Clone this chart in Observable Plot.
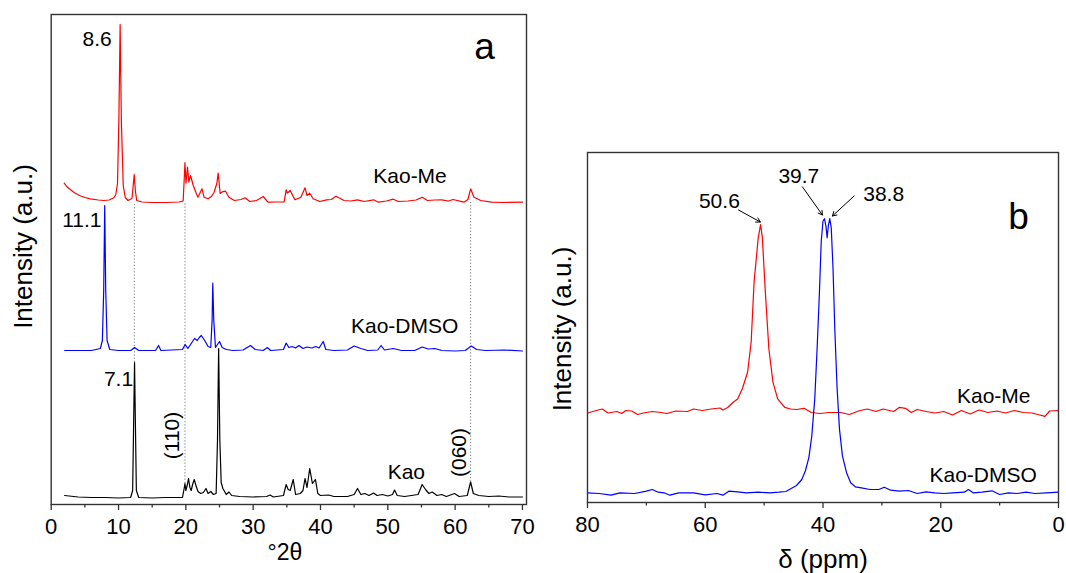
<!DOCTYPE html>
<html><head><meta charset="utf-8">
<script src="https://cdn.jsdelivr.net/npm/d3@7"></script>
<script src="https://cdn.jsdelivr.net/npm/@observablehq/plot@0.6"></script>
<style>
body{margin:0;background:#fff;}
#wrap{position:relative;width:1066px;height:573px;overflow:hidden;background:#fff;}
#wrap > svg{position:absolute;top:0;}
</style></head><body><div id="wrap"></div>
<script>
// ---------- Panel a: XRD (2θ, intensity a.u.) ----------
const kaoTheta = [2.0,4,6,8,10,11.8,12.1,12.25,12.38,12.5,12.65,13,15,17,19.5,19.75,19.87,20.0,20.2,20.4,20.6,20.8,21.0,21.25,21.5,21.8,22.2,22.6,23.0,23.3,23.7,24.1,24.5,24.7,24.87,25.05,25.25,25.5,26.0,26.4,26.8,28,30,32,32.5,33,34.5,34.9,35.2,35.5,35.95,36.3,37.0,37.4,37.7,38.0,38.4,38.8,39.25,39.6,40,41.2,42,44,45.0,45.5,46.0,46.6,47.2,47.9,48.4,49.2,50,50.7,51.0,51.4,52.5,54.5,55.1,55.6,56.1,56.6,57.3,58.0,58.7,59.9,60.6,61.8,62.3,62.7,63.5,65,66.5,68,70];
const kaoInt = [9,7.5,7,7,6.5,7,14,84,142,84,14,7,6.5,7,7,16,21,14,19,26,17,14,20,25,19,13,11,12,16,11,13,10,11,64,156,64,22,16,10,12.5,9,8,7.5,8,9.5,7.5,9,20,15,14,25,10,11,14,26,17,36,21,25,11,9,9.5,8,8,10,16,10,11,9,11.5,9,10,8.5,10,14.5,9,8,10,20,15,11,12.5,9,10,8,11,8,9,22.5,11,9,8,8.5,7.5,7.5];

const dmsoTheta = [2.0,4,6,7.3,7.6,7.8,7.95,8.1,8.3,8.7,10,11.8,12.4,13,15.5,15.95,16.3,19.5,19.9,20.3,20.8,21.3,21.7,22.0,22.3,22.8,23.3,23.7,23.9,24.0,24.15,24.4,24.7,25.0,25.4,26.0,27,28.5,29.6,30.3,31.5,32.1,32.6,34.5,34.9,35.3,35.8,36.3,36.8,37.4,38.0,38.7,39.3,39.8,40.4,40.8,42,44,45.0,46.0,47,48.5,49.0,49.5,50.8,52,54,55.1,56,57,58,60,61.5,62.4,63.2,64.5,67.3,70];
const dmsoInt = [154,154,154,156,164,214,299,214,164,155,154,154,157,154,154,159,154,155,160,156,161,166,164,167,169,164,158,157,184,221.3,184,157,160,163,157,155,154,154.5,159,155,154,157,154,155,161.5,157,158,156.5,159,156,157.5,156.5,158,156.5,163,155,154,154.5,158.5,156,154,154.5,159,154.5,156,154,154,157.5,155.5,156,154,153.5,154,158.5,155,154,154.5,153.5];

const meTheta = [1.94,2.3,2.7,3.4,4.2,5.0,5.8,7.0,7.8,8.6,9.3,9.6,9.85,10.05,10.24,10.42,10.7,11.0,11.4,12.0,12.18,12.33,12.5,12.7,13.5,15,17,19.0,19.6,19.75,19.87,20.02,20.25,20.45,20.7,21.1,21.5,21.8,22.4,22.7,23.3,23.8,24.2,24.6,24.8,25.1,25.5,25.9,26.4,27.2,28.2,28.8,29.5,30.5,31.5,32.2,33.5,34.6,34.9,35.1,35.5,36.2,37.1,37.7,38.0,38.4,38.9,39.9,40.9,41.6,42.3,43.5,44.5,45.5,46.5,47.9,48.6,49.8,50.8,51.6,53,54.2,55.1,55.9,57,58.0,59,59.7,61.3,61.9,62.3,62.8,63.8,65.4,67,70];
const meInt = [321.3,318,315.7,312,309,307,305.7,304.5,304,304.5,306.7,310,321,384,480,384,319,307,304,306,319,330,314,304,302.5,302,302,302.5,303.5,324,342,321.3,337.3,322.3,329,319,312,307.3,315.7,307.3,305.7,308,312.3,321,331.3,311,313,313.3,307.3,304,305,306.7,303,304,308,302.3,302.5,302.7,314.7,311.3,314,304.7,307.3,316.7,309,311.3,305.7,303,304.7,305,308.3,304,303.5,304.7,303,304.7,302.3,303.5,305.3,303,303.5,304.5,307.3,304,304.5,304.7,303.5,305,302.3,305,315.7,307.3,304,302.3,302,302.3];

// dotted guide lines (2θ, from black peak top up to Kao-Me baseline)
const guideTheta = [12.35, 19.87, 62.3];
const guideLow = [142, 21, 22.5];
const guideHigh = [302, 302, 302];

const aTicks = [0,10,20,30,40,50,60,70];
const aMinor = [5,15,25,35,45,55,65];
const aLabelText = ["8.6","11.1","7.1","Kao-Me","Kao-DMSO","Kao","(110)","(060)"];
const aLabelX = [6.83,4.55,10.0,53.3,52.5,52.75,18.0,60.6];
const aLabelY = [464.8,284,125,328,178,32.7,69,52];
const aLabelRot = [0,0,0,0,0,0,-90,-90];

// ---------- Panel b: 13C NMR (δ ppm, intensity a.u.) ----------
const mePpm = [80,78.5,77.5,76.5,75,74.2,73.5,72.5,71.5,70.5,69,67.5,66.5,65,63,62,60.5,59,57.5,57,56.2,55.3,54.5,53.7,52.8,52.2,51.7,51.0,50.6,50.3,49.8,49.2,48.5,47.7,46.5,45.5,44.5,43.2,42,40.5,39,37,35.5,34,32.5,31,29.8,28,27,26,25,24,22.5,21,19.5,18,16.5,15,13.5,12,10.5,9,7.5,6,4.5,3.2,2.3,1.5,0];
const meNmr = [90.5,93,94.5,90.5,92,90,93,92.5,89,90.5,92,91,90,92.5,92,94.5,93,94.5,95.5,93.5,96,101,104.6,114.7,131.5,161.7,222,265.7,279,265.7,212,155,121.4,104.6,96.2,94.5,94,95.2,91,90,91,91,89,92.5,94.5,92,94.5,92,96.2,95.2,91,94,92,90.5,92,88.5,93,89.5,93.5,91,92.5,90.5,93,91,90.5,88.5,87.2,92.5,93];

const dmsoPpm = [80,78,76,74.5,72,70,69,68,67,66,64.5,62,60,58,57,56,54.5,53,51,49,47.5,46.3,45.7,44.5,43.6,43.0,42.4,41.9,41.4,41.0,40.6,40.3,40.0,39.75,39.5,39.3,39.1,38.85,38.6,38.3,38.0,37.6,37.2,36.7,36.0,35.3,34.5,33.5,32,30.5,29.6,28.5,27,25.5,24,22.5,21,19.5,18,16,15.3,14.5,13,11.3,10,8.5,7,5.5,4,2,0];
const dmsoNmr = [10.7,10,8.3,10.7,10,12.3,14,11.3,10.7,8.3,10.7,10.7,8.6,10,8.3,12.3,11.7,10.7,11.3,10.7,11.3,12,14,18,24,32.5,45.9,67.7,104.6,155,212,262.3,282.5,284.8,277.4,265.7,277.4,284.8,275.8,235.5,175.1,114.7,74.4,47.6,30.8,20.7,16.7,15.7,14,14,16.3,13.3,12.3,13,10,11.7,10.7,10,10.7,11.3,14,10.7,11.3,12.7,9,10.7,10,11.3,10,10.7,11.3];

const bTicks = [0,20,40,60,80];
const bMinor = [10,30,50,70];
const bLabelText = ["50.6","39.7","38.8","Kao-Me","Kao-DMSO"];
const bLabelX = [57.6,44.1,29.7,11.0,12.8];
const bLabelY = [302,327,309.6,107,28.5];
const arrowX1 = [54.35,43.5,34.7];
const arrowY1 = [293.5,316.7,307.6];
const arrowX2 = [50.65,40.1,38.4];
const arrowY2 = [281.5,288.5,287.5];

// ---------- build ----------
const FONT = "'Liberation Sans', Arial, Helvetica, sans-serif";
const zip = (xs, ys) => xs.map((x, i) => ({x, y: ys[i]}));
const style = {fontFamily: FONT, fontSize: "22px", color: "black", background: "transparent", overflow: "visible"};

const aLabels = aLabelText.map((t, i) => ({t, x: aLabelX[i], y: aLabelY[i], r: aLabelRot[i]}));
const guides = guideTheta.map((x, i) => ({x, y1: guideLow[i], y2: guideHigh[i]}));

const plotA = Plot.plot({
  width: 535, height: 573,
  marginLeft: 50.7, marginRight: 9, marginTop: 14, marginBottom: 69,
  style,
  x: {domain: [0, 70.6]},
  y: {domain: [0, 490], axis: null},
  marks: [
    Plot.ruleX(guides, {x: "x", y1: "y1", y2: "y2", stroke: "#777", strokeWidth: 1, strokeDasharray: "1.2,2"}),
    Plot.line(zip(kaoTheta, kaoInt), {x: "x", y: "y", stroke: "black", strokeWidth: 1.2}),
    Plot.line(zip(dmsoTheta, dmsoInt), {x: "x", y: "y", stroke: "#0000ff", strokeWidth: 1.2}),
    Plot.line(zip(meTheta, meInt), {x: "x", y: "y", stroke: "#ff0000", strokeWidth: 1.2}),
    Plot.frame({stroke: "#333", strokeWidth: 1.4}),
    Plot.axisX({ticks: aTicks, tickSize: 6, tickPadding: 8, label: null, fontSize: 22, stroke: "#333", strokeWidth: 1.3}),
    Plot.axisX({ticks: aMinor, tickSize: 3.5, tickFormat: () => "", label: null, stroke: "#333", strokeWidth: 1.3}),
    Plot.text(aLabels, {x: "x", y: "y", text: "t", rotate: "r", fontSize: 21, fill: "black", textAnchor: "middle", lineAnchor: "middle"}),
    Plot.text(["a"], {text: d => d, x: 64.35, y: 457, fontSize: 37, fill: "black", textAnchor: "middle", lineAnchor: "middle"}),
    Plot.text(["°2θ"], {text: d => d, frameAnchor: "bottom", dx: -4, dy: 48.6, fontSize: 23, textAnchor: "middle", lineAnchor: "middle", fill: "black"}),
    Plot.text(["Intensity (a.u.)"], {text: d => d, frameAnchor: "left", rotate: -90, dx: -28, dy: -13, fontSize: 26, textAnchor: "middle", lineAnchor: "middle", fill: "black"})
  ]
});

const bLabels = bLabelText.map((t, i) => ({t, x: bLabelX[i], y: bLabelY[i]}));
const arrows = arrowX1.map((x1, i) => ({x1, y1: arrowY1[i], x2: arrowX2[i], y2: arrowY2[i]}));

const plotB = Plot.plot({
  width: 531, height: 573,
  marginLeft: 52, marginRight: 8, marginTop: 152, marginBottom: 71,
  style,
  x: {domain: [80, 0]},
  y: {domain: [1, 351], axis: null},
  marks: [
    Plot.line(zip(mePpm, meNmr), {x: "x", y: "y", stroke: "#ff0000", strokeWidth: 1.2}),
    Plot.line(zip(dmsoPpm, dmsoNmr), {x: "x", y: "y", stroke: "#0000ff", strokeWidth: 1.2}),
    Plot.frame({stroke: "#333", strokeWidth: 1.4}),
    Plot.axisX({ticks: bTicks, tickSize: 6, tickPadding: 8, label: null, fontSize: 22, stroke: "#333", strokeWidth: 1.3}),
    Plot.axisX({ticks: bMinor, tickSize: 3.5, tickFormat: () => "", label: null, stroke: "#333", strokeWidth: 1.3}),
    Plot.arrow(arrows, {x1: "x1", y1: "y1", x2: "x2", y2: "y2", stroke: "black", strokeWidth: 1, headLength: 7}),
    Plot.text(bLabels, {x: "x", y: "y", text: "t", fontSize: 21, fill: "black", textAnchor: "middle", lineAnchor: "middle"}),
    Plot.text(["b"], {text: d => d, x: 6.8, y: 286, fontSize: 37, fill: "black", textAnchor: "middle", lineAnchor: "middle"}),
    Plot.text(["δ (ppm)"], {text: d => d, frameAnchor: "bottom", dy: 57, fontSize: 26, textAnchor: "middle", lineAnchor: "middle", fill: "black"}),
    Plot.text(["Intensity (a.u.)"], {text: d => d, frameAnchor: "left", rotate: -90, dx: -25, dy: 1.5, fontSize: 26, textAnchor: "middle", lineAnchor: "middle", fill: "black"})
  ]
});

const wrap = document.getElementById("wrap");
plotA.style.left = "0px";
plotB.style.left = "535px";
wrap.appendChild(plotA);
wrap.appendChild(plotB);
</script>
</body></html>
